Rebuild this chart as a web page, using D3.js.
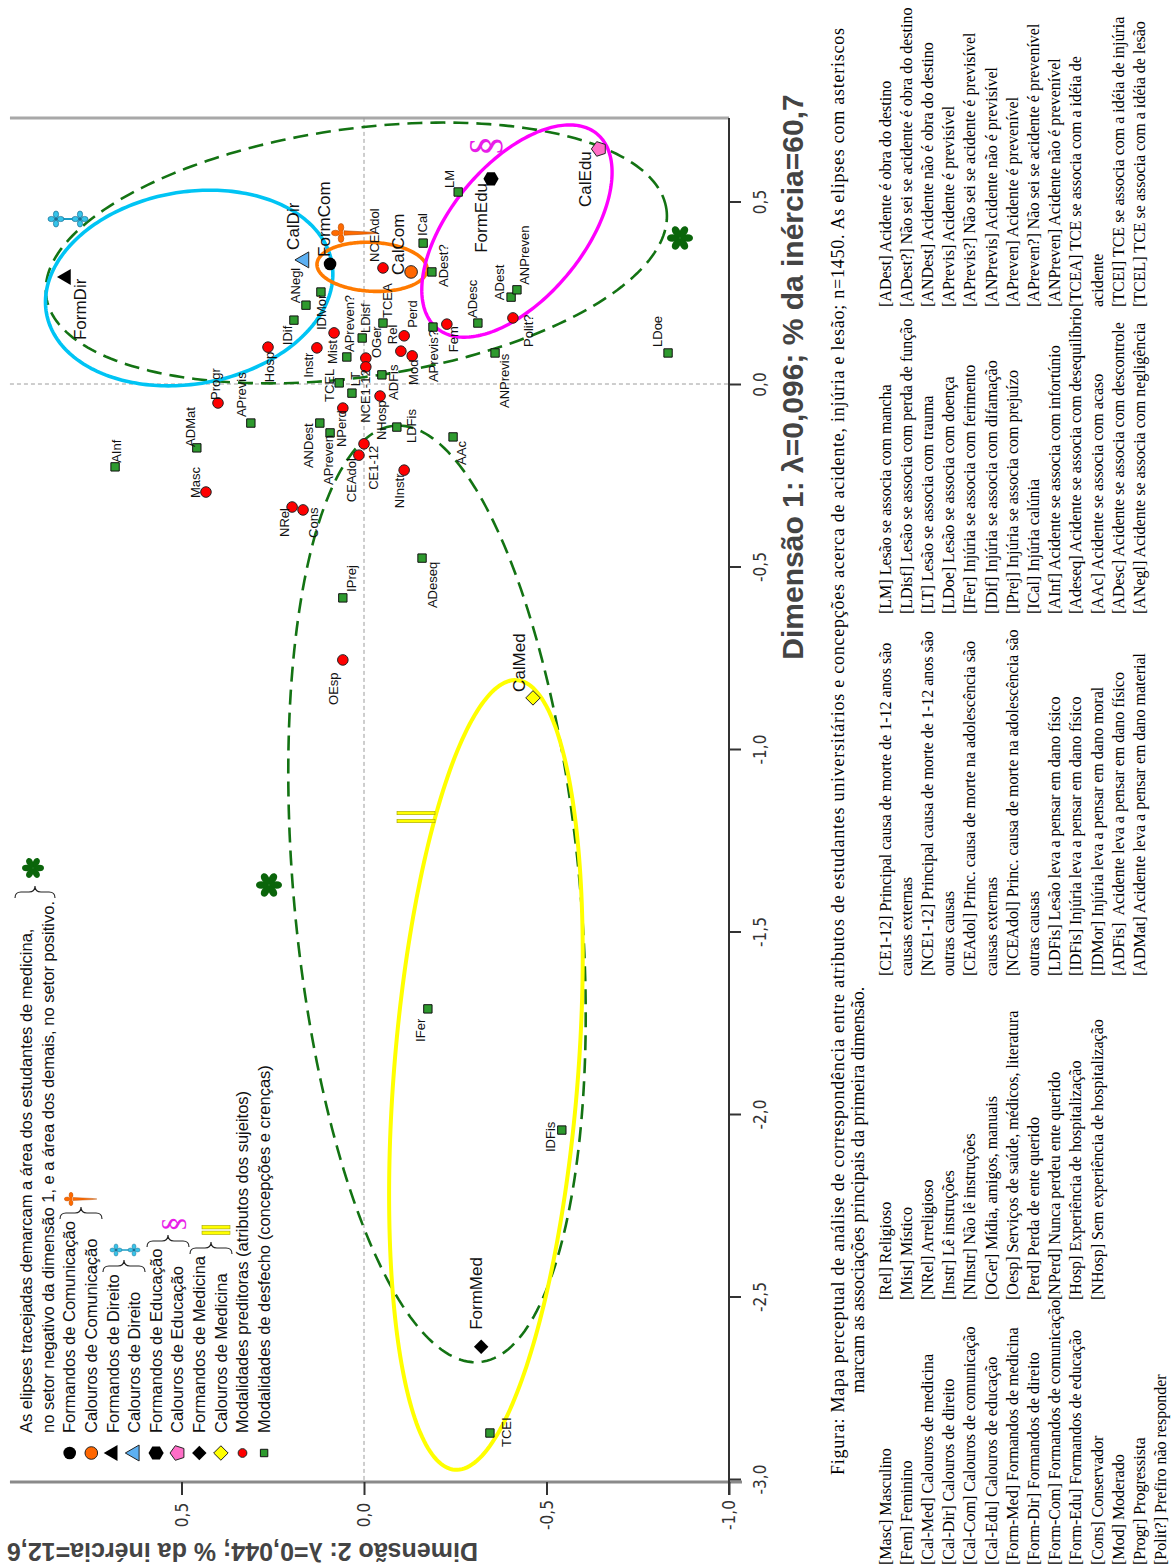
<!DOCTYPE html>
<html lang="pt">
<head>
<meta charset="utf-8">
<title>Mapa perceptual – análise de correspondência</title>
<script src="https://cdn.jsdelivr.net/npm/d3@7"></script>
<style>
  html, body { margin: 0; padding: 0; background: #fff; }
  svg { display: block; }
  .sans { font-family: "Liberation Sans", Arial, Helvetica, sans-serif; }
  .bold { font-family: "Liberation Sans", Arial, Helvetica, sans-serif; font-weight: bold; }
  .narrow { font-family: "Liberation Sans Narrow", "Arial Narrow", "DejaVu Sans Condensed", "Liberation Sans", sans-serif; font-stretch: condensed; }
  .serif { font-family: "Liberation Serif", "Times New Roman", Times, serif; white-space: pre; }
</style>
</head>
<body>
<svg id="chart" width="1174" height="1568"></svg>
<script>
// ---------------- data ----------------
// Predictor categories (attributes of the respondents): coordinates on dimensions 1 and 2
const predNames = ["Masc","Fem","Rel","Mist","NRel","Instr","NInstr","OGer","OEsp","Perd","NPerd","Hosp","NHosp",
                   "CE1-12","NCE1-12","CEAdol","NCEAdol","Cons","Mod","Progr","Polit?"];
const predDim1  = [-0.296, 0.164, 0.090, 0.140, -0.337, 0.099, -0.236, 0.071, -0.756, 0.132, -0.066, 0.101, -0.033,
                   -0.164, 0.047, -0.195, 0.318, -0.345, 0.077, -0.052, 0.181];
const predDim2  = [0.433, -0.227, -0.101, 0.082, 0.197, 0.129, -0.110, -0.005, 0.058, -0.110, 0.058, 0.263, -0.044,
                   0.000, -0.005, 0.014, -0.052, 0.167, -0.132, 0.400, -0.408];

// Outcome categories (conceptions and beliefs)
const outNames = ["LM","LDisf","LT","LDoe","IFer","IDif","IPrej","ICal","AInf","ADeseq","AAc","ADesc","ANegl",
                  "ADest","ADest?","ANDest","APrevis","APrevis?","ANPrevis","APreven","APreven?","ANPreven",
                  "TCEA","TCEI","TCEL","LDFis","IDFis","IDMor","ADFis","ADMat"];
const outDim1  = [0.526, 0.126, -0.025, 0.085, -1.712, 0.175, -0.586, 0.386, -0.227, -0.477, -0.145, 0.167, 0.216,
                  0.238, 0.307, -0.107, -0.107, 0.156, 0.085, -0.134, 0.074, 0.258,
                  0.167, -2.874, 0.003, -0.118, -2.044, 0.252, 0.025, -0.175];
const outDim2  = [-0.258, 0.005, 0.033, -0.833, -0.175, 0.192, 0.058, -0.162, 0.682, -0.159, -0.244, -0.312, 0.159,
                  -0.403, -0.186, 0.121, 0.310, -0.189, -0.359, 0.093, 0.047, -0.419,
                  -0.052, -0.345, 0.068, -0.090, -0.542, 0.118, -0.049, 0.458];

// Course / year groups
const groupNames = ["FormCom","CalCom","FormDir","CalDir","FormEdu","CalEdu","FormMed","CalMed"];
const groupDim1  = [0.329, 0.307, 0.293, 0.340, 0.562, 0.644, -2.638, -0.860];
const groupDim2  = [0.093, -0.129, 0.816, 0.164, -0.348, -0.644, -0.321, -0.463];

// Axis ticks and extents
const dim1Ticks = [-3, -2.5, -2, -1.5, -1, -0.5, 0, 0.5];
const dim2Ticks = [0.5, 0, -0.5, -1];
const dim1Extent = [-3, 0.729];
const dim2Extent = [0.97, -1];

// Area ellipses (centre, semi-axes and orientation in the dimension-1/dimension-2 plane)
const ellipseKeys   = ["medNeg", "othersPos", "direito", "comunicacao", "educacao", "medicina"];
const ellipseC1     = [-1.397, 0.359, 0.263, 0.321, 0.419, -1.893];
const ellipseC2     = [-0.200, 0.021, 0.479, -0.022, -0.419, -0.334];
const ellipseR1     = [1.288, 0.858, 0.397, 0.151, 0.345, 1.085];
const ellipseR2     = [0.392, 0.340, 0.263, 0.067, 0.183, 0.252];
const ellipseAngle  = [5.2, -82, -80, -93, -39.4, -4.5];

// Texts
const axisTitle1 = "Dimensão 1: λ=0,096; % da inércia=60,7";
const axisTitle2 = "Dimensão 2: λ=0,044; % da inércia=12,6";
const legendLines = [
  "As elipses tracejadas demarcam a área dos estudantes de medicina,",
  "no setor negativo da dimensão 1, e a área dos demais, no setor positivo.",
  "Formandos de Comunicação", "Calouros de Comunicação",
  "Formandos de Direito", "Calouros de Direito",
  "Formandos de Educação", "Calouros de Educação",
  "Formandos de Medicina", "Calouros de Medicina",
  "Modalidades preditoras (atributos dos sujeitos)",
  "Modalidades de desfecho (concepções e crenças)"
];
const captionLines = [
  "Figura: Mapa perceptual de análise de correspondência entre atributos de estudantes universitários e concepções acerca de acidente, injúria e lesão; n=1450. As elipses com asteriscos",
  "marcam as associações principais da primeira dimensão."
];
const glossary = [
  ["[Masc] Masculino","[Fem] Feminino","[Cal-Med] Calouros de medicina","[Cal-Dir] Calouros de direito",
   "[Cal-Com] Calouros de comunicação","[Cal-Edu] Calouros de educação","[Form-Med] Formandos de medicina",
   "[Form-Dir] Formandos de direito","[Form-Com] Formandos de comunicação","[Form-Edu] Formandos de educação",
   "[Cons] Conservador","[Mod] Moderado","[Progr] Progressista","[Polit?] Prefiro não responder"],
  ["[Rel] Religioso","[Mist] Místico","[NRel] Arreligioso","[Instr] Lê instruções","[NInstr] Não lê instruções",
   "[OGer] Mídia, amigos, manuais","[Oesp] Serviços de saúde, médicos, literatura","[Perd] Perda de ente querido",
   "[NPerd] Nunca perdeu ente querido","[Hosp] Experiência de hospitalização","[NHosp] Sem experiência de hospitalização"],
  ["[CE1-12] Principal causa de morte de 1-12 anos são","causas externas",
   "[NCE1-12] Principal causa de morte de 1-12 anos são","outras causas",
   "[CEAdol] Princ. causa de morte na adolescência são","causas externas",
   "[NCEAdol] Princ. causa de morte na adolescência são","outras causas",
   "[LDFis] Lesão leva a pensar em dano físico","[IDFis] Injúria leva a pensar em dano físico",
   "[IDMor] Injúria leva a pensar em dano moral","[ADFis]  Acidente leva a pensar em dano físico",
   "[ADMat] Acidente leva a pensar em dano material"],
  ["[LM] Lesão se associa com mancha","[LDisf] Lesão se associa com perda de função","[LT] Lesão se associa com trauma",
   "[LDoe] Lesão se associa com doença","[IFer] Injúria se associa com ferimento","[IDif] Injúria se associa com difamação",
   "[IPrej] Injúria se associa com prejuízo","[ICal] Injúria calúnia","[AInf] Acidente se associa com infortúnio",
   "[Adeseq] Acidente se associa com desequilíbrio","[AAc] Acidente se associa com acaso",
   "[ADesc] Acidente se associa com descontrole","[ANegl] Acidente se associa com negligência"],
  ["[ADest] Acidente é obra do destino","[ADest?] Não sei se acidente é obra do destino",
   "[ANDest] Acidente não é obra do destino","[APrevis] Acidente é previsível",
   "[APrevis?] Não sei se acidente é previsível","[ANPrevis] Acidente não é previsível",
   "[APreven] Acidente é prevenível","[APreven?] Não sei se acidente é prevenível",
   "[ANPreven] Acidente não é prevenível","[TCEA] TCE se associa com a idéia de","acidente",
   "[TCEI] TCE se associa com a idéia de injúria","[TCEL] TCE se associa com a idéia de lesão"]
];

// ---------------- layout & style ----------------
// label placement: screen offset [dx, dy] of the label start from its marker
const labelOffset = {
  FormDir:[14,63], CalDir:[-11,-10], FormCom:[-6,-7], CalCom:[-13,3], FormEdu:[-10,74], CalEdu:[-14,58],
  FormMed:[-5,-17], CalMed:[-14,-6],
  Masc:[-11,6], Fem:[7,28], Rel:[-8,-7], Mist:[-2,31], NRel:[-8,30], Instr:[-8,30], NInstr:[-5,38],
  OGer:[11,0], OEsp:[-9,45], Perd:[8,-8], NPerd:[-1,39], Hosp:[1,35], NHosp:[1,44], "CE1-12":[9,46],
  "NCE1-12":[0,56], CEAdol:[-7,47], NCEAdol:[-9,-6], Cons:[10,28], Mod:[1,29], Progr:[-3,-3], "Polit?":[16,29],
  LM:[-9,-4], LDisf:[3,-5], LT:[3,-7], LDoe:[-11,-6], IFer:[-7,33], IDif:[-6,25], IPrej:[9,-6], ICal:[-1,-7],
  AInf:[1,-4], ADeseq:[10,50], AAc:[8,28], ADesc:[-5,-5], ANegl:[-11,-2], ADest:[-12,3], "ADest?":[12,15],
  ANDest:[-11,45], APrevis:[-9,-6], "APrevis?":[0,55], ANPrevis:[9,55], APreven:[-2,52], "APreven?":[3,-5],
  ANPreven:[8,-5], TCEA:[4,-5], TCEI:[17,14], TCEL:[-10,19], LDFis:[15,16], IDFis:[-11,22], IDMor:[1,38],
  ADFis:[12,25], ADMat:[-6,-1]
};

const ellipseStyle = {
  medNeg:      {stroke:"#137313", width:2.6, dash:"15,8"},
  othersPos:   {stroke:"#137313", width:2.6, dash:"15,8"},
  direito:     {stroke:"#00c4f4", width:3.6},
  comunicacao: {stroke:"#ff7a00", width:3.6},
  educacao:    {stroke:"#ff00ff", width:3.4},
  medicina:    {stroke:"#ffff00", width:4}
};

function polygonSymbol(n, rot) {
  return {
    draw(ctx, size) {
      const R = Math.sqrt(size / (n / 2 * Math.sin(2 * Math.PI / n)));
      for (let k = 0; k < n; k++) {
        const a = rot + k * 2 * Math.PI / n;
        const px = R * Math.sin(a), py = -R * Math.cos(a);
        if (k === 0) ctx.moveTo(px, py); else ctx.lineTo(px, py);
      }
      ctx.closePath();
    }
  };
}
const triLeft = polygonSymbol(3, -Math.PI / 2);
const pentLeft = polygonSymbol(5, -Math.PI / 2);
const hexagon = polygonSymbol(6, -Math.PI / 2);
const diamond = polygonSymbol(4, 0);

const groupStyle = {
  FormCom: {type: d3.symbolCircle, size: 125, fill: "#000", stroke: "none"},
  CalCom:  {type: d3.symbolCircle, size: 125, fill: "#ff6600", stroke: "#222"},
  FormDir: {type: triLeft, size: 110, fill: "#000", stroke: "none"},
  CalDir:  {type: triLeft, size: 110, fill: "#5cb0f2", stroke: "#222"},
  FormEdu: {type: hexagon, size: 150, fill: "#000", stroke: "none"},
  CalEdu:  {type: pentLeft, size: 140, fill: "#ff6ec7", stroke: "#222"},
  FormMed: {type: diamond, size: 105, fill: "#000", stroke: "none"},
  CalMed:  {type: diamond, size: 105, fill: "#ffff00", stroke: "#222"}
};
const predStyle = {type: d3.symbolCircle, size: 88, fill: "#ff0000", stroke: "#222"};
const outStyle  = {type: d3.symbolSquare, size: 70, fill: "#2e9a2e", stroke: "#111"};
const legendMarks = [null, null,
  groupStyle.FormCom, groupStyle.CalCom, groupStyle.FormDir, groupStyle.CalDir,
  groupStyle.FormEdu, groupStyle.CalEdu, groupStyle.FormMed, groupStyle.CalMed,
  {type: d3.symbolCircle, size: 60, fill: "#ff0000", stroke: "#222"},
  {type: d3.symbolSquare, size: 55, fill: "#2e9a2e", stroke: "#111"}];

// ---------------- scales ----------------
const y = d3.scaleLinear().domain([-3, 0.5]).range([1479, 201.5]);  // dimension 1 runs upward
const x = d3.scaleLinear().domain([1, -1]).range([-1, 729]);        // dimension 2 runs leftward
const fmt = d => d3.format(".1f")(d).replace(".", ",").replace("\u2212", "-");

const svg = d3.select("#chart");
svg.append("rect").attr("width", 1174).attr("height", 1568).attr("fill", "#fff");

const plotTop = y(dim1Extent[1]), plotBottom = y(dim1Extent[0]);
const plotLeft = x(dim2Extent[0]), plotRight = x(dim2Extent[1]);

function vText(sel, str, px, py, cls, size, anchor) {
  return sel.append("text")
    .attr("class", cls)
    .attr("transform", `translate(${px},${py}) rotate(-90)`)
    .attr("dy", "0.35em")
    .attr("text-anchor", anchor || "start")
    .style("font-size", size + "px")
    .text(str);
}

// ---------------- frame, reference lines, axes ----------------
const frame = svg.append("g");
frame.append("line").attr("x1", plotLeft).attr("x2", plotRight).attr("y1", plotTop).attr("y2", plotTop)
  .attr("stroke", "#a8a8a8").attr("stroke-width", 3);
frame.append("line").attr("x1", plotLeft).attr("x2", plotRight).attr("y1", y(0)).attr("y2", y(0))
  .attr("stroke", "#9c9c9c").attr("stroke-width", 1).attr("stroke-dasharray", "4,3");
frame.append("line").attr("x1", x(0)).attr("x2", x(0)).attr("y1", plotTop).attr("y2", plotBottom + 3)
  .attr("stroke", "#9c9c9c").attr("stroke-width", 1).attr("stroke-dasharray", "4,3");

// dimension 2 axis (bottom)
const axis2 = d3.axisBottom(x).tickValues(dim2Ticks).tickFormat(fmt).tickSize(13);
const g2 = svg.append("g").attr("transform", `translate(0,${plotBottom + 3})`).call(axis2)
  .attr("font-family", null).attr("font-size", null);
g2.select(".domain").remove();
g2.insert("line", ":first-child").attr("x1", plotLeft).attr("x2", plotRight + 13).attr("y1", 0).attr("y2", 0)
  .attr("stroke", "#8a8a8a").attr("stroke-width", 3);
g2.selectAll(".tick line").attr("stroke", "#333").attr("stroke-width", 2);
g2.selectAll(".tick text").attr("class", "narrow").attr("x", 0).attr("y", 0).attr("dy", "0.35em")
  .attr("text-anchor", "middle").attr("transform", "translate(0,33) rotate(-90)")
  .attr("fill", "#333").style("font-size", "17px");

// dimension 1 axis (right)
const axis1 = d3.axisRight(y).tickValues(dim1Ticks).tickFormat(fmt).tickSize(12);
const g1 = svg.append("g").attr("transform", `translate(${plotRight},0)`).call(axis1)
  .attr("font-family", null).attr("font-size", null);
g1.select(".domain").remove();
g1.insert("line", ":first-child").attr("x1", 0).attr("x2", 0).attr("y1", plotTop).attr("y2", plotBottom + 16)
  .attr("stroke", "#333").attr("stroke-width", 2);
g1.selectAll(".tick line").attr("stroke", "#333").attr("stroke-width", 2);
g1.selectAll(".tick text").attr("class", "narrow").attr("x", 0).attr("y", 0).attr("dy", "0.35em")
  .attr("text-anchor", "middle").attr("transform", "translate(31,0) rotate(-90)")
  .attr("fill", "#333").style("font-size", "17px");

// axis titles
vText(svg, axisTitle1, 792, 377, "bold", 30, "middle").attr("fill", "#444");
svg.append("text").attr("class", "bold")
  .attr("transform", `translate(478,1552) rotate(180)`).attr("dy", "0.35em")
  .style("font-size", "25px").attr("fill", "#444").text(axisTitle2);

// ---------------- ellipses ----------------
const ellipseLine = d3.line().x(p => x(p[1])).y(p => y(p[0])).curve(d3.curveLinearClosed);
const gEll = svg.append("g");
ellipseKeys.forEach((key, i) => {
  const a = ellipseAngle[i] * Math.PI / 180;
  const pts = d3.range(0, 360, 1.5).map(deg => {
    const t = deg * Math.PI / 180;
    const u = ellipseR1[i] * Math.cos(t), v = ellipseR2[i] * Math.sin(t);
    return [ellipseC1[i] + u * Math.cos(a) - v * Math.sin(a), ellipseC2[i] + u * Math.sin(a) + v * Math.cos(a)];
  });
  const st = ellipseStyle[key];
  gEll.append("path").attr("d", ellipseLine(pts)).attr("fill", "none")
    .attr("stroke", st.stroke).attr("stroke-width", st.width)
    .attr("stroke-dasharray", st.dash || null);
});

// ---------------- ornaments ----------------
function asterisk(sel, cx, cy, R, color) {
  const g = sel.append("g").attr("transform", `translate(${cx},${cy})`);
  for (let k = 0; k < 6; k++) {
    g.append("path")
      .attr("d", `M0,0 C${R * 0.42},${-R * 0.35} ${R * 0.36},${-R} 0,${-R} C${-R * 0.36},${-R} ${-R * 0.42},${-R * 0.35} 0,0Z`)
      .attr("transform", `rotate(${k * 60 + 30})`).attr("fill", color);
  }
}
function direitoMark(sel, cx, cy, s) {
  const g = sel.append("g").attr("transform", `translate(${cx},${cy}) scale(${s})`);
  g.append("line").attr("x1", -12).attr("x2", 12).attr("stroke", "#1a9cc4").attr("stroke-width", 2);
  [-12, 12].forEach(c => {
    [[0, -1], [0, 1], [-1, 0], [1, 0]].forEach(([dx, dy]) => {
      g.append("ellipse").attr("cx", c + dx * 4.6).attr("cy", dy * 4.6)
        .attr("rx", dx ? 3.4 : 2.6).attr("ry", dy ? 3.4 : 2.6)
        .attr("fill", "#36c4ea").attr("stroke", "#1a6f93").attr("stroke-width", 0.7);
    });
    g.append("circle").attr("cx", c).attr("cy", 0).attr("r", 1.6).attr("fill", "#1a6f93");
  });
}
function comunicacaoMark(sel, cx, cy, s) {
  const g = sel.append("g").attr("transform", `translate(${cx},${cy}) scale(${s})`);
  g.append("path").attr("d", "M3,-2.2 L30,-0.8 L37,0 L30,0.8 L3,2.2 Z")
    .attr("fill", "#ff6a00").attr("stroke", "#b34a00").attr("stroke-width", 0.6);
  [[0, -1], [0, 1], [-1, 0]].forEach(([dx, dy]) => {
    g.append("ellipse").attr("cx", dx * 5.5).attr("cy", dy * 5.5)
      .attr("rx", dx ? 4 : 2.8).attr("ry", dy ? 4 : 2.8)
      .attr("fill", "#ff6a00").attr("stroke", "#b34a00").attr("stroke-width", 0.6);
  });
  g.append("circle").attr("r", 2.4).attr("fill", "#ff6a00");
}
function medicinaMark(sel, cx, cy, w, gap) {
  [-gap / 2, gap / 2].forEach(o => {
    sel.append("rect").attr("x", cx - w / 2).attr("y", cy + o - 1.7).attr("width", w).attr("height", 3.4)
      .attr("fill", "#ffff00").attr("stroke", "#a0a000").attr("stroke-width", 0.6);
  });
}
function educacaoMark(sel, cx, cy, size) {
  vText(sel, "§", cx, cy, "serif", size, "middle").attr("fill", "#e81ee8");
}

const gOrn = svg.append("g");
asterisk(gOrn, 680, 238, 13, "#0b650b");
asterisk(gOrn, 269, 885, 13, "#0b650b");
direitoMark(gOrn, 68, 219, 1.0);
comunicacaoMark(gOrn, 341, 233, 1.0);
educacaoMark(gOrn, 483, 146, 40);
medicinaMark(gOrn, 416, 817, 38, 8);

// ---------------- markers ----------------
function drawMarker(sel, st, px, py) {
  sel.append("path").attr("transform", `translate(${px},${py})`)
    .attr("d", d3.symbol().type(st.type).size(st.size)())
    .attr("fill", st.fill).attr("stroke", st.stroke).attr("stroke-width", st.stroke === "none" ? 0 : 1);
}
const gPts = svg.append("g");
outNames.forEach((n, i) => drawMarker(gPts, outStyle, x(outDim2[i]), y(outDim1[i])));
predNames.forEach((n, i) => drawMarker(gPts, predStyle, x(predDim2[i]), y(predDim1[i])));
groupNames.forEach((n, i) => drawMarker(gPts, groupStyle[n], x(groupDim2[i]), y(groupDim1[i])));

// ---------------- point labels ----------------
const gLab = svg.append("g").attr("fill", "#111");
function label(name, d1, d2, size) {
  const off = labelOffset[name] || [0, -6];
  vText(gLab, name, x(d2) + off[0], y(d1) + off[1], "sans", size, "start");
}
outNames.forEach((n, i) => label(n, outDim1[i], outDim2[i], 13));
predNames.forEach((n, i) => label(n, predDim1[i], predDim2[i], 13));
groupNames.forEach((n, i) => label(n, groupDim1[i], groupDim2[i], 17));

// ---------------- legend ----------------
const gLeg = svg.append("g").attr("fill", "#111");
const legStartY = 1433, legMarkY = 1453;
legendLines.forEach((t, i) => {
  const lx = 26.5 + i * 21.6;
  vText(gLeg, t, lx, legStartY, "sans", 16.5, "start");
  if (legendMarks[i]) drawMarker(gLeg, legendMarks[i], lx, legMarkY);
});
function brace(sel, x1, x2, yb, d) {
  const q = d / 2, xm = (x1 + x2) / 2;
  sel.append("path")
    .attr("d", `M${x1},${yb} q0,${-q} ${q},${-q} L${xm - q},${yb - q} q${q},0 ${q},${-q} q0,${q} ${q},${q} L${x2 - q},${yb - q} q${q},0 ${q},${q}`)
    .attr("fill", "none").attr("stroke", "#222").attr("stroke-width", 1.1);
}
brace(gLeg, 15, 55, 898, 12);
asterisk(gLeg, 33, 868, 11, "#0b650b");
brace(gLeg, 60, 102, 1219, 12);
comunicacaoMark(gLeg, 71, 1199, 0.7);
brace(gLeg, 103, 145, 1272, 12);
direitoMark(gLeg, 125, 1250, 0.75);
brace(gLeg, 147, 189, 1247, 12);
educacaoMark(gLeg, 171, 1224, 30);
brace(gLeg, 190, 232, 1254, 12);
medicinaMark(gLeg, 216, 1230, 28, 5.6);

// ---------------- caption and glossary ----------------
const gCap = svg.append("g").attr("fill", "#000");
// first caption line is justified across the full page height
vText(gCap, captionLines[0], 838, 1475, "serif", 18, "start")
  .attr("textLength", 1447).attr("lengthAdjust", "spacing");
vText(gCap, captionLines[1], 858, 1393, "serif", 18, "start");
const colStart = [1565, 1300, 976, 614, 307];
glossary.forEach((col, c) => {
  col.forEach((t, r) => vText(gCap, t, 885 + r * 21.2, colStart[c], "serif", 16, "start"));
});
</script>
</body>
</html>
